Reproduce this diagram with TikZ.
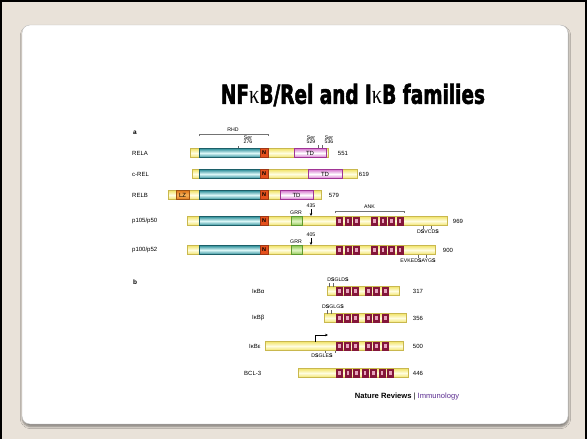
\documentclass[tikz,border=0pt]{standalone}
\usepackage{fontspec}
\setmainfont{Liberation Sans}
\newfontfamily\titlefont[FakeBold=2.2]{DejaVu Sans Condensed}
\newfontfamily\kappafont{Liberation Serif}
\usetikzlibrary{arrows.meta,shadows.blur}
\definecolor{beige}{HTML}{E9E2D9}
\definecolor{ylwA}{HTML}{F2E46A}
\definecolor{ylwB}{HTML}{FFFDE0}
\definecolor{ylwD}{HTML}{C9B84E}
\definecolor{tealA}{HTML}{2E8F99}
\definecolor{tealB}{HTML}{DDF8F8}
\definecolor{tealD}{HTML}{1C5F68}
\definecolor{nred}{HTML}{E5501C}
\definecolor{pinkA}{HTML}{D77ACF}
\definecolor{pinkD}{HTML}{A03595}
\definecolor{orgA}{HTML}{E2761A}
\definecolor{orgB}{HTML}{F7B35A}
\definecolor{grnA}{HTML}{8CC64E}
\definecolor{grnB}{HTML}{E2F5C8}
\definecolor{grnD}{HTML}{5E9A2E}
\definecolor{ankD}{HTML}{84163A}
\definecolor{ankL}{HTML}{E7A3BC}
\definecolor{nrpurple}{HTML}{5B2D91}
\tikzset{
  ybarst/.style={top color=ylwA,bottom color=ylwA,middle color=ylwB,draw=ylwD,line width=0.4pt},
  tealst/.style={top color=tealA,bottom color=tealA,middle color=tealB,draw=tealD,line width=0.5pt},
  nst/.style={fill=nred,draw=nred!70!black,line width=0.3pt},
  tdst/.style={top color=pinkA,bottom color=pinkA,middle color=white,draw=pinkD,line width=0.4pt},
  lzst/.style={top color=orgA,bottom color=orgA,middle color=orgB,draw=orgA!70!black,line width=0.4pt},
  grrst/.style={top color=grnA,bottom color=grnA,middle color=grnB,draw=grnD,line width=0.4pt},
  lbl/.style={font=\fontsize{6}{6}\selectfont,inner sep=0pt},
  lblL/.style={lbl,anchor=west},
  sml/.style={font=\fontsize{5.2}{5.5}\selectfont,inner sep=0pt,align=center},
  dtxt/.style={font=\fontsize{5.2}{5.5}\selectfont,inner sep=0pt},
  brk/.style={draw=black!55,line width=0.35pt},
  tck/.style={draw=black!60,line width=0.3pt},
  arr/.style={line width=0.6pt,-{Stealth[length=3pt,width=2.6pt]}},
}
\newcommand\dom[4]{\shadedraw[#1] (#2,#4-4.5) rectangle (#3,#4+4.5);}
\newcommand\ankr[2]{\fill[ankD] (#1,#2-4.5) rectangle ++(7,9);\fill[ankL] (#1+2.2,#2-2.2) rectangle ++(2.6,4.4);}
\newcommand\nbox[2]{\fill[nst] (260,#1-4.5) rectangle (268,#1+4.5);\node[font=\fontsize{5.5}{6}\selectfont\bfseries,inner sep=0pt] (#2) at (264,#1) {N};}
\newcommand\ankseven[1]{\foreach \xx in {336,344.5,353,371,379.5,388,396.5}{\ankr{\xx}{#1}}}
\newcommand\ankikb[1]{\foreach \xx in {336,344,352,365,373,382}{\ankr{\xx}{#1}}}
\begin{document}
\begin{tikzpicture}[x=1pt,y=-1pt]
\useasboundingbox (0,0) rectangle (587,439);
\fill[beige] (0,0) rectangle (587,439);
\draw[line width=2pt] (1,439) -- (1,0.5) -- (586,0.5) -- (586,439);
\fill[white,rounded corners=8pt,draw=black!25,line width=0.4pt,
  blur shadow={shadow xshift=0.5pt,shadow yshift=-2.5pt,shadow blur steps=6,shadow opacity=45}]
  (22,25) rectangle (568,424);

% title
\node[inner sep=0pt] (title) at (353,95) {\resizebox{264pt}{20pt}{\titlefont\bfseries NF{\kappafont\mdseries κ}B/Rel and I{\kappafont\mdseries κ}B families}};

% ---------- part a ----------
\node[font=\fontsize{6.5}{6.5}\selectfont\bfseries,inner sep=0pt] (a) at (135,133) {a};
\draw[brk] (199,136) -- (199,134) -- (268,134) -- (268,136);
\node[sml] (rhd) at (233,130) {RHD};
\node[sml] (ser276) at (248,140) {Ser\\[-1.5pt]276};
\draw[tck] (238.5,146) -- (238.5,148.5);
\node[sml] (ser529) at (311,140) {Ser\\[-1.5pt]529};
\node[sml] (ser536) at (329,140) {Ser\\[-1.5pt]536};
\draw[tck] (318,145) -- (318,148.5);
\draw[tck] (322,145) -- (322,148.5);

% RELA
\node[lblL] (rela) at (132,153) {RELA};
\dom{ybarst}{190}{328}{153}
\dom{tealst}{199}{260}{153}
\nbox{153}{relaN}
\dom{tdst}{294}{326}{153}
\node[lbl] (relaTD) at (310,153) {TD};
\node[lbl] (rela551) at (343,153) {551};

% c-REL
\node[lblL] (crel) at (132,174) {c-REL};
\dom{ybarst}{192}{357}{174}
\dom{tealst}{199}{260}{174}
\nbox{174}{crelN}
\dom{tdst}{308}{342}{174}
\node[lbl] (crelTD) at (325,174) {TD};
\node[lbl] (crel619) at (364,174) {619};

% RELB
\node[lblL] (relb) at (132,195) {RELB};
\dom{ybarst}{168}{321}{195}
\dom{lzst}{176}{189}{195}
\node[lbl] (relbLZ) at (182.5,195) {LZ};
\dom{tealst}{199}{260}{195}
\nbox{195}{relbN}
\dom{tdst}{280}{313}{195}
\node[lbl] (relbTD) at (296.5,195) {TD};
\node[lbl] (relb579) at (334,195) {579};

% p105/p50
\node[lblL] (p105) at (132,221) {p105/p50};
\dom{ybarst}{187}{447}{221}
\dom{tealst}{199}{260}{221}
\nbox{221}{p105N}
\dom{grrst}{291}{302}{221}
\node[sml] (p105grr) at (296,213) {GRR};
\node[sml] (p105n435) at (311,205.5) {435};
\coordinate (p105tip) at (311,216);
\draw[arr] ([yshift=-1.5pt]p105n435.south) -- (p105tip);
\draw[brk] (335,213) -- (335,211) -- (404,211) -- (404,213);
\node[sml] (ank) at (369.5,207) {ANK};
\ankseven{221}
\node[lbl] (p105num) at (458,221) {969};
\draw[tck] (423,225.5) -- (423,229);
\draw[tck] (431,225.5) -- (431,229);
\node[dtxt] (p105ds) at (428,232) {D\textbf{S}VCD\textbf{S}};

% p100/p52
\node[lblL] (p100) at (132,250) {p100/p52};
\dom{ybarst}{187}{435}{250}
\dom{tealst}{199}{260}{250}
\nbox{250}{p100N}
\dom{grrst}{291}{302}{250}
\node[sml] (p100grr) at (296,242) {GRR};
\node[sml] (p100n405) at (311,234.5) {405};
\coordinate (p100tip) at (311,245);
\draw[arr] ([yshift=-1.5pt]p100n405.south) -- (p100tip);
\ankseven{250}
\node[lbl] (p100num) at (448,250) {900};
\draw[tck] (418,254.5) -- (418,258);
\draw[tck] (426,254.5) -- (426,258);
\node[dtxt] (p100ds) at (418,261) {EVKED\textbf{S}AYG\textbf{S}};

% ---------- part b ----------
\node[font=\fontsize{6.5}{6.5}\selectfont\bfseries,inner sep=0pt] (b) at (135,282) {b};

% IkBa
\node[lblL] (ikba) at (252,291) {IκBα};
\dom{ybarst}{327}{399}{291}
\ankikb{291}
\draw[tck] (329,283) -- (329,286.5);
\draw[tck] (333,283) -- (333,286.5);
\node[dtxt] (ikbads) at (338,280) {D\textbf{S}GLD\textbf{S}};
\node[lbl] (ikbanum) at (418,291) {317};

% IkBb
\node[lblL] (ikbb) at (252,318) {IκBβ};
\dom{ybarst}{324}{406}{318}
\ankikb{318}
\draw[tck] (327,310) -- (327,313.5);
\draw[tck] (331,310) -- (331,313.5);
\node[dtxt] (ikbbds) at (333,307) {D\textbf{S}GLG\textbf{S}};
\node[lbl] (ikbbnum) at (418,318) {356};

% IkBe
\node[lblL] (ikbe) at (249,346) {IκBε};
\dom{ybarst}{265}{403}{346}
\ankikb{346}
\coordinate (bentS) at (315,341.5);
\coordinate (bentE) at (328,335);
\draw[arr] (bentS) |- (bentE);
\draw[tck] (325,350.5) -- (325,353);
\draw[tck] (335,350.5) -- (335,353);
\node[dtxt] (ikbeds) at (322,356) {D\textbf{S}GLE\textbf{S}};
\node[lbl] (ikbenum) at (418,346) {500};

% BCL-3
\node[lblL] (bcl) at (244,373) {BCL-3};
\dom{ybarst}{298}{408}{373}
\foreach \xx in {336,344.5,353,361.5,370,378.5,387}{\ankr{\xx}{373}}
\node[lbl] (bclnum) at (418,373) {446};

% credit
\node[inner sep=0pt,font=\fontsize{7.6}{8}\selectfont] (credit) at (407,397) {\textbf{Nature Reviews} | \textcolor{nrpurple}{Immunology}};
\end{tikzpicture}
\end{document}
